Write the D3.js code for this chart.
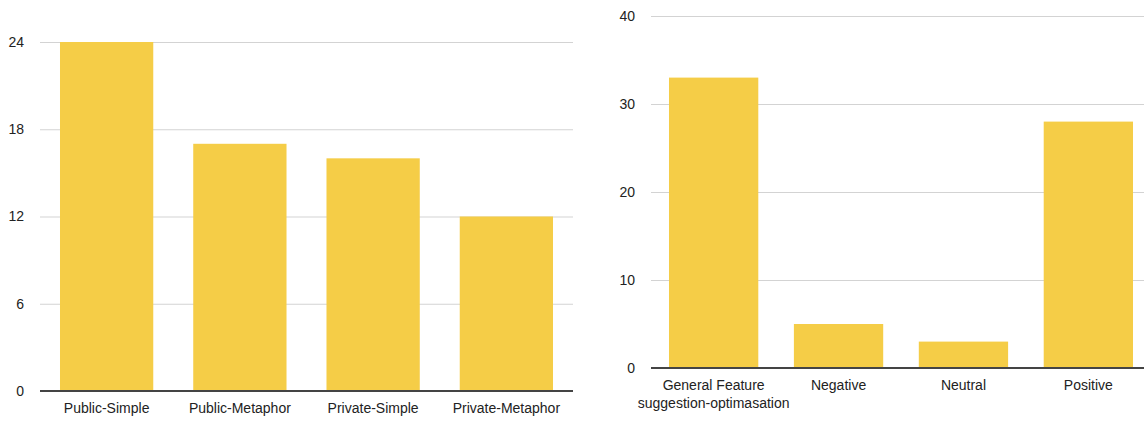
<!DOCTYPE html>
<html>
<head>
<meta charset="utf-8">
<script src="https://cdn.jsdelivr.net/npm/d3@7"></script>
<style>
  html, body { margin: 0; padding: 0; background: #fff; }
  svg { display: block; font-family: "Liberation Sans", Arial, Helvetica, sans-serif; }
</style>
</head>
<body>
<svg id="chart" width="1144" height="421"></svg>
<script>
// Left panel: counts per condition
const conditions = ["Public-Simple", "Public-Metaphor", "Private-Simple", "Private-Metaphor"];
const conditionCounts = [24, 17, 16, 12];
const leftTicks = [0, 6, 12, 18, 24];

// Right panel: feedback categories
const feedbackTypes = ["General Feature\nsuggestion-optimasation", "Negative", "Neutral", "Positive"];
const feedbackCounts = [33, 5, 3, 28];
const rightTicks = [0, 10, 20, 30, 40];

const BAR = "#f5cd47";
const GRID = "#d3d3d3";
const AXIS = "#444";
const TEXT = "#222";

const svg = d3.select("#chart");

function panel(cfg) {
  const g = svg.append("g");
  const x = d3.scaleBand()
    .domain(cfg.cats)
    .range([cfg.x0, cfg.x1])
    .paddingInner(cfg.padIn)
    .paddingOuter(cfg.padOut);
  const y = d3.scaleLinear().domain([0, cfg.max]).range([cfg.yBase, cfg.yTop]);

  // gridlines and tick labels
  const yAxis = d3.axisLeft(y).tickValues(cfg.ticks).tickSize(-(cfg.gridEnd - cfg.x0)).tickPadding(16);
  const ya = g.append("g").attr("transform", `translate(${cfg.x0},0)`).call(yAxis);
  ya.select(".domain").remove();
  ya.selectAll(".tick line").attr("stroke", GRID).attr("stroke-width", 1);
  ya.selectAll(".tick text").attr("fill", TEXT).attr("font-size", 14).attr("font-family", null);

  // bars
  g.append("g").selectAll("rect")
    .data(cfg.cats.map((c, i) => ({ c, v: cfg.vals[i] })))
    .join("rect")
    .attr("x", d => x(d.c))
    .attr("width", x.bandwidth())
    .attr("y", d => y(d.v))
    .attr("height", d => y(0) - y(d.v))
    .attr("fill", BAR);

  // baseline
  g.append("line")
    .attr("x1", cfg.x0).attr("x2", cfg.gridEnd)
    .attr("y1", y(0)).attr("y2", y(0))
    .attr("stroke", AXIS).attr("stroke-width", 2);

  // category labels (multi-line where needed)
  const lab = g.append("g").selectAll("text")
    .data(cfg.cats)
    .join("text")
    .attr("x", d => x(d) + x.bandwidth() / 2)
    .attr("y", y(0) + 22)
    .attr("text-anchor", "middle")
    .attr("fill", TEXT)
    .attr("font-size", 14);
  lab.each(function (d) {
    const t = d3.select(this);
    d.split("\n").forEach((line, i) => {
      t.append("tspan").attr("x", x(d) + x.bandwidth() / 2).attr("dy", i === 0 ? 0 : 18).text(line);
    });
  });
}

panel({
  cats: conditions, vals: conditionCounts, ticks: leftTicks, max: 24,
  x0: 40, x1: 573, gridEnd: 573, yBase: 391, yTop: 42,
  padIn: 0.3, padOut: 0.15
});

panel({
  cats: feedbackTypes, vals: feedbackCounts, ticks: rightTicks, max: 40,
  x0: 651, x1: 1151, gridEnd: 1151, yBase: 368, yTop: 16,
  padIn: 0.285, padOut: 0.144
});
</script>
</body>
</html>
